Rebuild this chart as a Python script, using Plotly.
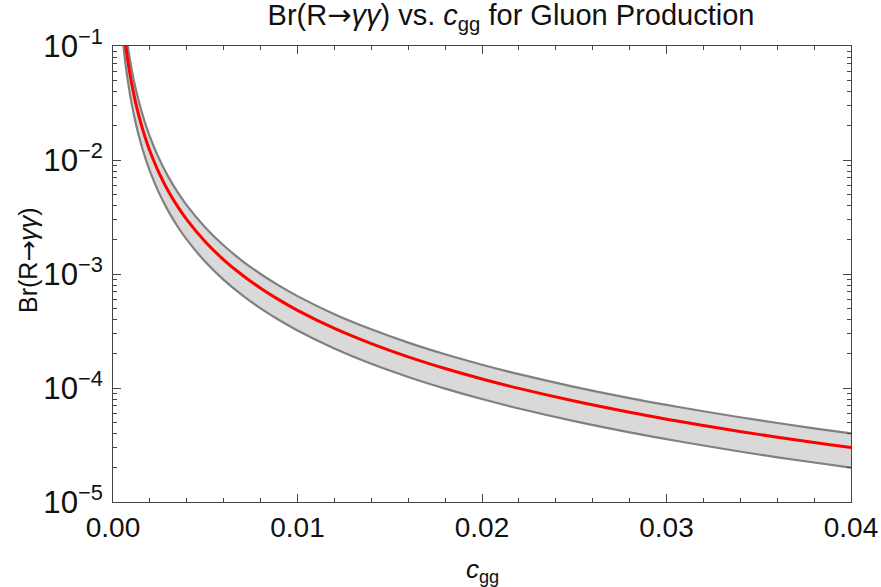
import plotly.graph_objects as go

# c_gg sample points
c_gg = [0.0004, 0.0005, 0.0006, 0.0007, 0.0008, 0.0009, 0.001, 0.0012, 0.0014, 0.0016,
        0.0018, 0.002, 0.0025, 0.003, 0.0035, 0.004, 0.005, 0.006, 0.007, 0.008,
        0.009, 0.010, 0.012, 0.014, 0.016, 0.018, 0.020, 0.022, 0.025, 0.028,
        0.030, 0.032, 0.035, 0.038, 0.040]

# central value (red)
br_central = [0.30, 0.192, 0.1333, 0.0980, 0.075, 0.0593, 0.048, 0.0333, 0.0245, 0.01875,
              0.01481, 0.012, 0.00768, 0.00533, 0.00392, 0.003, 0.00192, 0.001333, 0.00098, 0.00075,
              0.000593, 0.00048, 0.000333, 0.000245, 0.0001875, 0.0001481, 0.00012, 0.0000992, 0.0000768, 0.0000612,
              0.0000533, 0.0000469, 0.0000392, 0.0000332, 0.00003]

# upper edge of band
br_upper = [0.40, 0.256, 0.1778, 0.1306, 0.1, 0.0790, 0.064, 0.0444, 0.0327, 0.025,
            0.01975, 0.016, 0.01024, 0.00711, 0.00522, 0.004, 0.00256, 0.001778, 0.001306, 0.001,
            0.00079, 0.00064, 0.000444, 0.000327, 0.00025, 0.0001975, 0.00016, 0.0001322, 0.0001024, 0.0000816,
            0.0000711, 0.0000625, 0.0000522, 0.0000443, 0.00004]

# lower edge of band
br_lower = [0.20, 0.128, 0.0889, 0.0653, 0.05, 0.0395, 0.032, 0.0222, 0.0163, 0.0125,
            0.00988, 0.008, 0.00512, 0.00356, 0.00261, 0.002, 0.00128, 0.000889, 0.000653, 0.0005,
            0.000395, 0.00032, 0.000222, 0.000163, 0.000125, 0.0000988, 0.00008, 0.0000661, 0.0000512, 0.0000408,
            0.0000356, 0.0000313, 0.0000261, 0.0000222, 0.00002]

x_ticks = [0.00, 0.01, 0.02, 0.03, 0.04]
x_ticktext = ["0.00", "0.01", "0.02", "0.03", "0.04"]

FONT = "Liberation Sans, Arial, sans-serif"
GRAY = "#808080"
FRAME = "#444444"
TXT = "#111111"
ARROW = '<span style="font-family:DejaVu Sans">→</span>'

W, H = 881, 587
L, R, T, B = 113, 851, 46, 502  # plot-area edges in pixels

fig = go.Figure()
fig.add_trace(go.Scatter(x=c_gg, y=br_upper, mode="lines", line=dict(color=GRAY, width=2.2, shape="spline"),
                         showlegend=False, hoverinfo="skip"))
fig.add_trace(go.Scatter(x=c_gg, y=br_lower, mode="lines", line=dict(color=GRAY, width=2.2, shape="spline"),
                         fill="tonexty", fillcolor="#d9d9d9", showlegend=False, hoverinfo="skip"))
fig.add_trace(go.Scatter(x=c_gg, y=br_central, mode="lines", line=dict(color="#ff0000", width=3, shape="spline"),
                         showlegend=False))

fig.update_layout(
    width=W, height=H,
    margin=dict(l=L, r=W - R, t=T, b=H - B, autoexpand=False),
    paper_bgcolor="white", plot_bgcolor="white",
    font=dict(family=FONT, color=TXT),
    title=dict(text="Br(R" + ARROW + "<i>γγ</i>) vs. <i>c</i><sub>gg</sub> for Gluon Production",
               x=511 / W, xref="container", y=1 - 15 / H, yref="container", yanchor="middle", xanchor="center",
               font=dict(size=29, family=FONT, color=TXT)),
    xaxis=dict(range=[0, 0.04], tickmode="array", tickvals=x_ticks, ticktext=x_ticktext,
               ticks="inside", ticklen=8, tickcolor=FRAME, tickwidth=1,
               showline=True, linecolor=FRAME, linewidth=1, mirror="ticks",
               showgrid=False, zeroline=False,
               minor=dict(dtick=0.002, ticks="inside", ticklen=4, tickcolor=FRAME, showgrid=False),
               tickfont=dict(size=28, family=FONT, color=TXT)),
    yaxis=dict(type="log", range=[-5, -1], dtick=1, exponentformat="power", showexponent="all",
               ticks="inside", ticklen=8, tickcolor=FRAME, tickwidth=1,
               showline=True, linecolor=FRAME, linewidth=1, mirror="ticks",
               showgrid=False, zeroline=False, ticklabelstandoff=4,
               minor=dict(ticks="inside", ticklen=4, tickcolor=FRAME, showgrid=False),
               tickfont=dict(size=25, family=FONT, color=TXT)),
    annotations=[
        dict(text="<i>c</i><sub>gg</sub>", x=0.5, xref="paper", y=(B - 570) / (B - T), yref="paper",
             xanchor="center", yanchor="middle", showarrow=False,
             font=dict(size=26, family=FONT, color=TXT)),
        dict(text="Br(R" + ARROW + "<i>γγ</i>)", x=(28 - L) / (R - L), xref="paper", y=(B - 260) / (B - T),
             yref="paper", xanchor="center", yanchor="middle", showarrow=False, textangle=-90,
             font=dict(size=25, family=FONT, color=TXT)),
    ],
)

fig.write_html("out.html", config={"displayModeBar": False},
               post_script="document.body.style.margin='0';document.body.style.padding='0';")
